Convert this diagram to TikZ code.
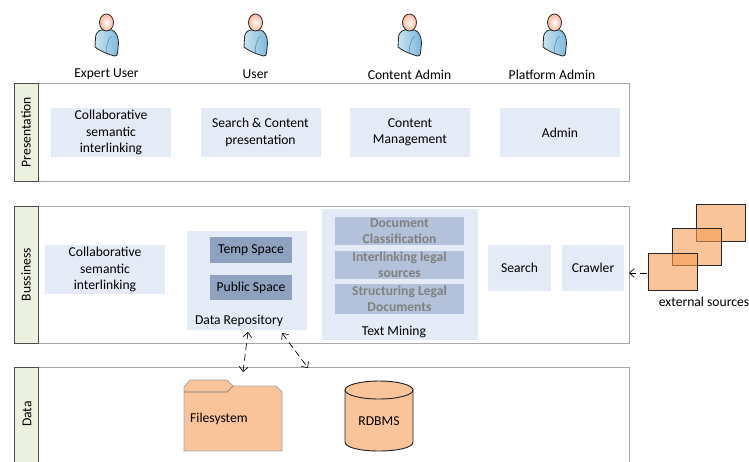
\documentclass[tikz,border=0pt]{standalone}
\usepackage{fontspec}
\setmainfont{Carlito}
\usetikzlibrary{arrows.meta, positioning}
\definecolor{tabgreen}{RGB}{235,241,222}
\definecolor{paleblue}{RGB}{228,234,246}
\definecolor{midblue}{RGB}{179,194,218}
\definecolor{darkblue}{RGB}{142,161,191}
\definecolor{peach}{RGB}{249,196,153}
\definecolor{overlay}{RGB}{245,157,85}
\definecolor{framegray}{RGB}{168,168,168}
\definecolor{bodylight}{RGB}{200,228,240}
\definecolor{bodydark}{RGB}{125,185,218}
\newcommand*{\userfig}[1]{
 \begin{scope}[shift={(#1,0)}]
  \shade[left color=bodylight, right color=bodydark, draw=black!85, line width=.6pt]
   (-5,30) .. controls (-9,31) and (-11,34) .. (-11,38) -- (-11.5,47) .. controls (-8,50) and (0,54) .. (8,56)
   .. controls (10,56) and (11,55) .. (11,53) -- (12,43) .. controls (12,36) and (9,31) .. (5,30) -- cycle;
  \draw[bodydark!80!black, line width=.5pt] (2,41) .. controls (0,44) and (-.5,50) .. (0,53) (5,36) .. controls (3,38) and (2,39) .. (2,41);
  \shade[inner color=white, outer color=orange!55!red!40, draw=black!85, line width=.6pt] (0,22.5) ellipse (7 and 8.5);
 \end{scope}
}
\tikzset{
 x=.75pt, y=-.75pt,
 every node/.style={font=\fontsize{10.2}{12.3}\selectfont, align=center, inner sep=0pt},
 framebox/.style={draw=framegray, line width=.6pt},
 tabbox/.style={draw=black!70, line width=.7pt, fill=tabgreen, rotate=90},
 bluebox/.style={fill=paleblue, minimum width=90pt, minimum height=36.75pt},
 innerbox/.style={fill=darkblue, minimum width=61.5pt, minimum height=19pt},
 minebox/.style={fill=midblue, text=black!50, minimum width=96.75pt, font=\fontsize{10.2}{12.3}\selectfont\bfseries},
 source/.style={draw=black!85, line width=.7pt, fill=overlay, fill opacity=.6, text opacity=1, minimum width=36.75pt, minimum height=27.75pt},
 link/.style={<->, >={Straight Barb[length=3.5pt, width=6.5pt]}, dash pattern=on 5pt off 3pt, line width=.5pt}
}
\begin{document}
\begin{tikzpicture}
 \clip (0,0) rectangle (749,461);

 \userfig{106.5}
 \userfig{255.5}
 \userfig{409.5}
 \userfig{554.5}
 \node (expert) at (106.5,74.5) {Expert User};
 \node (user) at (255.5,74.5) {User};
 \node (cadmin) at (409.5,74.5) {Content Admin};
 \node (padmin) at (552,74.5) {Platform Admin};

 \node[framebox, minimum width=443.25pt, minimum height=73.5pt] (presentation) at (333.5,132) {};
 \node[framebox, minimum width=443.25pt, minimum height=102.5pt] (business) at (333.5,274.7) {};
 \node[framebox, minimum width=443.25pt, minimum height=90pt] (data) at (333.5,427) {};

 \node[tabbox, minimum width=73.5pt, minimum height=18pt] (tabP) at (26,132) {Presentation};
 \node[tabbox, minimum width=102.5pt, minimum height=18pt] (tabB) at (26,274.7) {Bussiness};
 \node[tabbox, minimum width=90pt, minimum height=18pt] (tabD) at (26,427) {};
 \node[rotate=90] (tabDtext) at (27,414) {Data};

 \node[bluebox] (collabP) at (111,132.5) {Collaborative\\semantic\\interlinking};
 \node[bluebox] (search1) at (260.5,132.5) {Search \& Content\\presentation};
 \node[bluebox] (content) at (410,132.5) {Content\\Management};
 \node[bluebox] (admin) at (560,132.5) {Admin};

 \node[bluebox] (collabB) at (105,269.5) {Collaborative\\semantic\\interlinking};
 \node[bluebox, minimum height=74.25pt] (repo) at (247,280.5) {};
 \node (repolabel) at (239,321) {Data Repository};
 \node[innerbox] (temp) at (251,250) {Temp Space};
 \node[innerbox] (public) at (251,287.5) {Public Space};
 \node[fill=paleblue, minimum width=117pt, minimum height=98.25pt] (mining) at (400,274.5) {};
 \node[minebox, minimum height=21pt] (classif) at (399.5,231) {Document\\Classification};
 \node[minebox, minimum height=21pt] (legal) at (399.5,265) {Interlinking legal\\sources};
 \node[minebox, minimum height=22.5pt] (struct) at (399.5,299) {Structuring Legal\\Documents};
 \node (mininglabel) at (394,332) {Text Mining};
 \node[fill=paleblue, minimum width=47.25pt, minimum height=34.5pt] (search2) at (519.5,268) {Search};
 \node[fill=paleblue, minimum width=46.5pt, minimum height=34.5pt] (crawler) at (593,268) {Crawler};

 \node[source] (src3) at (721,222.5) {};
 \node[source] (src2) at (696.5,247) {};
 \node[source] (src1) at (672.5,271.5) {};
 \node (external) at (704,301.5) {external sources};

 \draw[framegray, line width=.6pt, fill=peach] (184,392) -- (184,387) -- (190,380) -- (227,380) -- (233,386) -- (276,386) -- (282,392) -- (282,451) -- (184,451) -- cycle;
 \draw[framegray!70!black, line width=.5pt] (184,392) -- (227,392) -- (233,386);
 \node (filesystem) at (219,419) {Filesystem};

 \draw[black!85, line width=.7pt, fill=peach] (345,390) -- (345,442) .. controls (345,454) and (413,454) .. (413,442) -- (413,390) -- cycle;
 \draw[black!85, line width=.7pt, fill=peach] (379,390) ellipse (34 and 9);
 \node (rdbms) at (379,421) {RDBMS};

 \coordinate (r1) at (248,332);
 \coordinate (f1) at (243,372);
 \coordinate (r2) at (282,333);
 \coordinate (f2) at (308,368);
 \coordinate (c1) at (629,273);
 \draw[link] (r1) -- (f1);
 \draw[link] (r2) -- (f2);
 \draw[link, <-] (c1) -- (src1.west |- c1);
\end{tikzpicture}
\end{document}
